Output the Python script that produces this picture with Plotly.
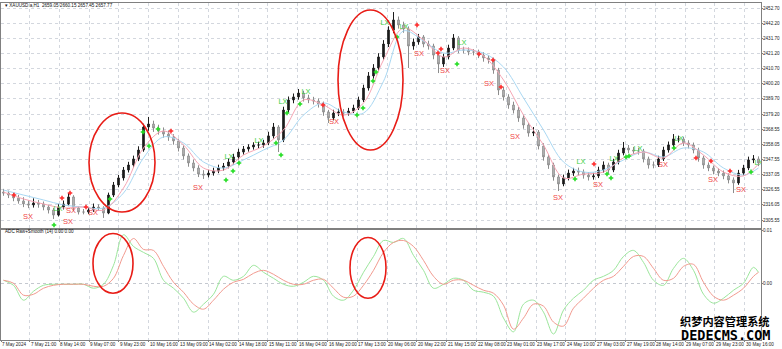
import plotly.graph_objects as go

# ---------------- data ----------------
first_open = 2325.0
closes = [2324.3, 2322.9, 2320.9, 2318.8, 2316.7, 2316.0, 2317.4, 2316.7, 2314.6, 2312.5,
          2309.0, 2314.6, 2316.7, 2321.6, 2313.9, 2311.1, 2311.1, 2312.5, 2314.6, 2313.9,
          2310.4, 2322.9, 2329.9, 2334.8, 2340.3, 2343.8, 2348.0, 2354.2, 2370.2, 2372.3,
          2369.5, 2367.4, 2365.3, 2363.3, 2360.5, 2355.6, 2350.1, 2345.2, 2341.7, 2337.5,
          2336.8, 2338.2, 2339.6, 2341.7, 2343.1, 2345.9, 2349.4, 2352.8, 2354.9, 2356.3,
          2357.7, 2357.7, 2359.1, 2364.0, 2370.2, 2361.2, 2382.0, 2389.0, 2391.1, 2393.8,
          2390.4, 2389.0, 2388.3, 2386.2, 2380.6, 2376.5, 2379.9, 2380.6, 2379.9, 2381.3,
          2383.4, 2389.0, 2397.3, 2405.7, 2411.2, 2418.9, 2427.9, 2437.6, 2444.6, 2441.1,
          2438.3, 2426.5, 2429.3, 2432.8, 2427.9, 2426.5, 2420.2, 2414.0, 2418.9, 2425.1,
          2432.1, 2423.7, 2423.7, 2422.3, 2422.3, 2420.2, 2418.2, 2416.8, 2409.8, 2395.9,
          2391.1, 2385.5, 2382.0, 2376.5, 2371.6, 2366.0, 2366.7, 2357.0, 2349.4, 2343.8,
          2335.5, 2330.6, 2334.8, 2338.2, 2339.6, 2338.9, 2336.8, 2335.5, 2336.2, 2340.3,
          2343.8, 2340.3, 2345.9, 2352.1, 2355.6, 2354.2, 2353.5, 2353.5, 2348.0, 2343.8,
          2343.8, 2348.0, 2354.2, 2357.7, 2361.9, 2361.9, 2359.1, 2357.7, 2354.2, 2348.7,
          2343.8, 2341.7, 2339.6, 2338.2, 2336.2, 2333.4, 2331.3, 2338.2, 2341.7, 2347.3,
          2348.0, 2345.2]
highs = [2327.2, 2326.0, 2324.5, 2323.0, 2321.4, 2319.2, 2320.6, 2319.5, 2318.4, 2316.2,
         2314.0, 2316.8, 2319.1, 2324.3, 2322.8, 2315.3, 2313.2, 2314.3, 2317.0, 2316.5,
         2315.1, 2324.6, 2332.0, 2336.9, 2342.4, 2346.0, 2350.3, 2356.8, 2372.5, 2377.2,
         2374.6, 2371.8, 2369.9, 2367.7, 2365.2, 2362.1, 2357.4, 2351.8, 2347.5, 2343.6,
         2340.2, 2340.5, 2341.9, 2344.0, 2345.2, 2348.3, 2351.6, 2355.1, 2357.0, 2358.2,
         2359.6, 2360.0, 2361.3, 2366.9, 2373.0, 2371.5, 2384.3, 2391.4, 2393.5, 2396.6,
         2395.4, 2392.6, 2391.2, 2390.1, 2387.9, 2382.1, 2382.2, 2382.9, 2382.6, 2383.5,
         2385.7, 2391.3, 2399.6, 2408.4, 2413.9, 2421.5, 2430.6, 2440.2, 2450.1, 2447.0,
         2443.4, 2440.1, 2431.7, 2434.9, 2434.1, 2430.2, 2428.1, 2421.6, 2421.2, 2427.4,
         2434.8, 2433.4, 2426.0, 2425.5, 2424.4, 2424.0, 2422.3, 2420.1, 2418.4, 2411.3,
         2398.2, 2393.0, 2387.8, 2384.1, 2378.6, 2373.2, 2370.2, 2368.1, 2358.9, 2351.2,
         2345.4, 2337.2, 2337.1, 2340.6, 2341.8, 2342.0, 2340.7, 2338.9, 2338.4, 2342.6,
         2346.3, 2345.4, 2348.1, 2354.4, 2359.8, 2357.7, 2356.3, 2355.8, 2355.0, 2349.6,
         2346.2, 2350.2, 2356.5, 2360.1, 2365.3, 2364.2, 2363.4, 2361.0, 2359.4, 2355.8,
         2350.3, 2345.6, 2343.4, 2341.5, 2340.0, 2338.0, 2335.2, 2340.4, 2343.9, 2349.6,
         2350.7, 2349.8]
lows = [2322.4, 2320.8, 2318.6, 2316.9, 2314.5, 2313.8, 2314.2, 2314.1, 2312.3, 2310.1,
        2306.3, 2308.0, 2312.9, 2315.2, 2311.6, 2309.4, 2309.5, 2309.8, 2311.2, 2311.8,
        2307.0, 2309.6, 2321.5, 2328.3, 2333.0, 2338.6, 2342.1, 2346.5, 2353.0, 2367.6,
        2366.8, 2364.9, 2362.8, 2360.6, 2357.9, 2353.2, 2347.6, 2342.6, 2339.4, 2335.4,
        2334.1, 2335.2, 2336.4, 2338.1, 2339.9, 2341.5, 2344.2, 2347.7, 2351.0, 2353.1,
        2354.5, 2355.4, 2355.8, 2357.6, 2362.2, 2352.8, 2359.7, 2380.2, 2386.7, 2389.2,
        2387.9, 2386.8, 2385.9, 2383.7, 2378.0, 2373.0, 2374.8, 2377.8, 2377.6, 2378.1,
        2379.9, 2382.0, 2387.6, 2395.5, 2403.8, 2409.4, 2417.0, 2425.8, 2435.4, 2438.6,
        2435.7, 2411.2, 2423.9, 2427.4, 2425.6, 2424.0, 2417.3, 2407.7, 2412.0, 2417.2,
        2423.6, 2421.5, 2421.4, 2420.1, 2420.0, 2418.1, 2415.6, 2414.3, 2407.2, 2392.4,
        2388.6, 2382.9, 2379.6, 2373.8, 2369.0, 2363.5, 2363.9, 2354.6, 2346.8, 2341.1,
        2332.9, 2325.7, 2329.0, 2333.1, 2336.2, 2336.5, 2334.3, 2333.0, 2333.6, 2334.7,
        2338.5, 2337.9, 2338.8, 2344.2, 2350.5, 2352.0, 2351.3, 2351.0, 2345.6, 2341.3,
        2341.5, 2342.4, 2346.6, 2352.4, 2356.0, 2359.5, 2357.0, 2355.3, 2351.9, 2346.1,
        2341.2, 2339.5, 2337.3, 2336.0, 2333.9, 2331.0, 2324.3, 2330.0, 2336.6, 2340.2,
        2345.1, 2343.0]

ma_bars = [0, 4, 8, 12, 16, 20, 24, 28, 32, 36, 40, 44, 48, 52, 56, 60, 64, 68, 72, 76,
           80, 84, 88, 92, 96, 100, 104, 108, 112, 116, 120, 124, 128, 132, 136, 140, 144, 148, 151]
ma_fast = [2325.0, 2320.2, 2316.7, 2313.9, 2314.6, 2312.5, 2327.8, 2355.6, 2367.4, 2357.7,
           2341.7, 2340.3, 2350.7, 2357.0, 2368.1, 2389.0, 2385.5, 2378.5, 2386.9, 2416.8,
           2439.0, 2430.7, 2418.9, 2425.1, 2419.6, 2402.9, 2378.5, 2357.7, 2334.8, 2337.5,
           2338.9, 2348.7, 2352.8, 2348.7, 2359.1, 2350.7, 2338.9, 2336.2, 2344.5]
ma_slow = [2326.4, 2322.9, 2319.5, 2316.0, 2314.6, 2313.9, 2324.3, 2348.7, 2363.3, 2359.1,
           2345.9, 2341.7, 2347.3, 2354.2, 2361.2, 2378.5, 2386.9, 2380.6, 2379.9, 2402.0,
           2437.0, 2430.0, 2421.6, 2423.7, 2421.6, 2411.9, 2390.4, 2368.1, 2345.9, 2338.9,
           2340.3, 2347.3, 2352.8, 2349.4, 2355.6, 2352.8, 2341.7, 2336.8, 2341.7]

ind_bars = list(range(0, 151, 2)) + [151]
adc_raw = [0.00057, -0.00038, -0.00321, -0.00151, -0.00038, -0.00019, -0.00019, -0.00019, -0.00019, -0.00094,
           -0.00019, 0.00340, 0.00920, 0.00698, 0.00585, 0.00472, 0.00057, -0.00094, -0.00283, -0.00547,
           -0.00396, -0.00208, 0.00132, 0.00057, 0.00132, 0.00340, 0.00208, 0.00094, -0.00019, -0.00057,
           0.00019, 0.00132, 0.00057, -0.00245, -0.00321, -0.00132, 0.00208, 0.00509, 0.00811, 0.00774,
           0.00849, 0.00528, 0.00245, -0.00094, -0.00019, 0.00094, 0.00057, -0.00132, -0.00170, -0.00245,
           -0.00660, -0.00920, -0.00396, -0.00321, -0.00547, -0.00962, -0.00509, -0.00283, -0.00132, 0.00057,
           0.00132, 0.00245, 0.00509, 0.00623, 0.00396, 0.00057, -0.00038, 0.00283, 0.00472, 0.00245,
           -0.00208, -0.00377, -0.00283, -0.00132, 0.00000, 0.00302, 0.00208]
adc_smooth = [0.00057, 0.00000, -0.00226, -0.00208, -0.00094, -0.00038, -0.00019, -0.00019, -0.00019, -0.00057,
              -0.00057, 0.00094, 0.00528, 0.00849, 0.00642, 0.00623, 0.00321, 0.00019, -0.00170, -0.00396,
              -0.00491, -0.00321, -0.00113, 0.00019, 0.00075, 0.00189, 0.00245, 0.00170, 0.00057, -0.00019,
              -0.00019, 0.00057, 0.00075, -0.00094, -0.00264, -0.00245, -0.00038, 0.00245, 0.00585, 0.00774,
              0.00811, 0.00698, 0.00434, 0.00132, -0.00019, 0.00057, 0.00057, -0.00038, -0.00132, -0.00189,
              -0.00415, -0.00870, -0.00660, -0.00396, -0.00434, -0.00736, -0.00811, -0.00472, -0.00283, -0.00094,
              0.00057, 0.00132, 0.00321, 0.00509, 0.00509, 0.00283, 0.00057, 0.00094, 0.00321, 0.00358,
              0.00019, -0.00245, -0.00321, -0.00226, -0.00094, 0.00132, 0.00208]

sell_dot_bars = [2.1, 11.7, 13.3, 16.5, 33.5, 63.9, 82.7, 86.9, 87.5, 95.1, 97.9, 99.5, 118.1, 138.5, 141.5, 145.3]
sell_dot_prices = [2322.9, 2320.9, 2324.3, 2314.6, 2367.4, 2385.5, 2441.1, 2421.6, 2424.4, 2420.9, 2416.8, 2398.0,
                   2344.5, 2348.7, 2346.6, 2339.6]
buy_dot_bars = [10.1, 21.3, 27.9, 29.1, 30.9, 44.5, 45.9, 47.1, 54.5, 55.5, 56.7, 59.3, 70.7, 71.9, 73.9, 74.5,
                78.7, 90.7, 114.3, 120.7, 121.5, 124.5, 125.1, 134.1, 149.5]
buy_dot_prices = [2302.1, 2320.2, 2366.7, 2357.0, 2368.8, 2333.4, 2339.6, 2345.2, 2359.1, 2350.7, 2379.9, 2386.2,
                  2378.5, 2383.4, 2402.2, 2408.4, 2432.8, 2414.0, 2334.1, 2337.5, 2334.8, 2349.4, 2350.1, 2355.6, 2339.0]
sx_bars = [4.9, 12.9, 13.5, 17.9, 38.9, 66.1, 83.1, 88.3, 97.1, 102.3, 110.9, 118.9, 131.9, 141.9, 147.5]
sx_prices = [2307.7, 2304.2, 2311.8, 2310.4, 2327.8, 2373.7, 2421.0, 2409.1, 2400.1, 2363.3, 2320.9, 2329.9,
             2343.8, 2333.4, 2326.4]
lx_bars = [10.9, 45.1, 51.1, 55.9, 60.5, 76.3, 80.1, 91.7, 115.5, 122.1, 126.9, 135.1, 151.1]
lx_prices = [2313.2, 2349.4, 2360.5, 2387.6, 2394.5, 2442.5, 2439.7, 2428.6, 2345.9, 2348.0, 2354.9, 2361.9, 2345.2]

price_ticks = [2452.70, 2442.20, 2431.70, 2421.20, 2410.70, 2400.20, 2389.70, 2379.20, 2368.55,
               2358.05, 2347.55, 2337.05, 2326.55, 2316.05, 2305.55]
ind_ticks = [0.01, 0.00]
time_labels = ["7 May 2024", "7 May 21:00", "8 May 14:00", "9 May 07:00", "9 May 23:00", "10 May 16:00",
               "13 May 09:00", "14 May 02:00", "14 May 18:00", "15 May 11:00", "16 May 04:00", "16 May 20:00",
               "17 May 13:00", "20 May 06:00", "20 May 22:00", "21 May 15:00", "22 May 08:00", "23 May 01:00",
               "23 May 17:00", "24 May 10:00", "27 May 03:00", "27 May 19:00", "28 May 14:00", "29 May 07:00",
               "29 May 23:00", "30 May 16:00"]

# hand-drawn highlight ellipses (bar index span, value span)
main_circles = [(17.1, 30.3, 2311.1, 2379.9), (66.9, 79.9, 2354.2, 2451.5)]
ind_circles = [(17.9, 25.9, -0.00189, 0.00943), (69.3, 76.5, -0.00283, 0.00868)]

# ---------------- figure ----------------
n = len(closes)
bars = list(range(n))
opens = [first_open] + closes[:-1]
tickpos = [-0.45] + [5.2 + 5.96 * (k - 1) for k in range(1, len(time_labels))]

FONT = "Liberation Sans"
grid = "#d3d7de"
axc = "#808080"
lblfont = dict(family=FONT, size=4.6, color="#222222")

fig = go.Figure()
fig.add_trace(go.Candlestick(
    x=bars, open=opens, high=highs, low=lows, close=closes,
    increasing=dict(line=dict(color="#1c1c1c", width=1), fillcolor="#1c1c1c"),
    decreasing=dict(line=dict(color="#8c8c8c", width=1), fillcolor="#c6c6c6"),
    whiskerwidth=0, xaxis="x", yaxis="y", showlegend=False, hoverinfo="skip"))
fig.add_trace(go.Scatter(x=ma_bars, y=ma_slow, mode="lines", xaxis="x", yaxis="y",
                         line=dict(color="#a9d8f3", width=1, shape="spline")))
fig.add_trace(go.Scatter(x=ma_bars, y=ma_fast, mode="lines", xaxis="x", yaxis="y",
                         line=dict(color="#f6a6b4", width=1, shape="spline")))
fig.add_trace(go.Scatter(x=sell_dot_bars, y=sell_dot_prices, mode="markers", xaxis="x", yaxis="y",
                         marker=dict(symbol="cross", size=3.8, color="#ff2a2a", line=dict(width=0))))
fig.add_trace(go.Scatter(x=buy_dot_bars, y=buy_dot_prices, mode="markers", xaxis="x", yaxis="y",
                         marker=dict(symbol="cross", size=3.8, color="#22dd22", line=dict(width=0))))
fig.add_trace(go.Scatter(x=sx_bars, y=sx_prices, mode="text", text=["SX"] * len(sx_bars), xaxis="x", yaxis="y",
                         textfont=dict(family=FONT, size=7.5, color="#f04848"), cliponaxis=True))
fig.add_trace(go.Scatter(x=lx_bars, y=lx_prices, mode="text", text=["LX"] * len(lx_bars), xaxis="x", yaxis="y",
                         textfont=dict(family=FONT, size=7.5, color="#3ccf3c"), cliponaxis=True))
fig.add_trace(go.Scatter(x=ind_bars, y=adc_raw, mode="lines", xaxis="x2", yaxis="y2",
                         line=dict(color="#9be69b", width=1, shape="spline")))
fig.add_trace(go.Scatter(x=ind_bars, y=adc_smooth, mode="lines", xaxis="x2", yaxis="y2",
                         line=dict(color="#f29a8f", width=1, shape="spline")))

shapes = []
for x0, x1, y0, y1 in main_circles:
    shapes.append(dict(type="circle", xref="x", yref="y", x0=x0, x1=x1, y0=y0, y1=y1,
                       line=dict(color="#e81c16", width=1.6)))
for x0, x1, y0, y1 in ind_circles:
    shapes.append(dict(type="circle", xref="x2", yref="y2", x0=x0, x1=x1, y0=y0, y1=y1,
                       line=dict(color="#e81c16", width=1.6)))

annotations = []
for v in price_ticks:
    annotations.append(dict(xref="paper", yref="y", x=1, y=v, xanchor="left", yanchor="middle",
                            xshift=1, showarrow=False, text=f"{v:.2f}", font=lblfont, borderpad=0))
for v in ind_ticks:
    annotations.append(dict(xref="paper", yref="y2", x=1, y=v, xanchor="left", yanchor="middle",
                            xshift=1, showarrow=False, text=f"{v:.2f}", font=lblfont, borderpad=0))
for t, lab in zip(tickpos, time_labels):
    annotations.append(dict(xref="x2", yref="paper", x=t, y=0, xanchor="left", yanchor="top",
                            xshift=0, yshift=-1, showarrow=False, text=lab, font=lblfont, borderpad=0))
annotations += [
    dict(xref="paper", yref="paper", x=0.003, y=0.994, xanchor="left", yanchor="middle", showarrow=False,
         text="▾ XAUUSD.a,H1  2659.05 2660.15 2657.45 2657.77", font=dict(family=FONT, size=4.6, color="#111111")),
    dict(xref="paper", yref="paper", x=0.003, y=0.3205, xanchor="left", yanchor="middle", showarrow=False,
         text="ADC Raw+Smooth (14) 0.00 0.00", font=dict(family=FONT, size=4.6, color="#111111")),
    dict(xref="paper", yref="paper", x=1.0132, y=0.0564, xanchor="right", yanchor="middle", showarrow=False,
         text="<b>织梦内容管理系统</b>", borderpad=0,
         font=dict(family="Noto Sans CJK SC", size=11.2, color="#000000", shadow="0px 0px 2px white")),
    dict(xref="paper", yref="paper", x=1.0132, y=0.0148, xanchor="right", yanchor="middle", showarrow=False,
         text="<b>DEDECMS.COM</b>", borderpad=0,
         font=dict(family="DejaVu Sans Mono", size=13.5, color="#000000", shadow="0px 0px 2px white")),
]

fig.update_layout(
    width=782, height=349, margin=dict(l=1, r=21, t=3, b=9),
    paper_bgcolor="white", plot_bgcolor="white", showlegend=False, shapes=shapes,
    annotations=annotations, boxgap=0.55, hovermode=False,
    xaxis=dict(domain=[0, 1], anchor="y", range=[-0.5, n - 0.5], tickvals=tickpos, showticklabels=False,
               showgrid=True, gridcolor=grid, griddash="dot", gridwidth=1, zeroline=False,
               showline=True, mirror=True, linecolor=axc, linewidth=1, ticks="",
               rangeslider=dict(visible=False)),
    yaxis=dict(domain=[0.33234, 1], anchor="x", range=[2300.0, 2456.4], side="right",
               tickvals=price_ticks, showticklabels=False,
               showgrid=True, gridcolor=grid, griddash="dot", gridwidth=1, zeroline=False,
               showline=True, mirror=True, linecolor=axc, linewidth=1,
               ticks="outside", ticklen=1, tickcolor=axc),
    xaxis2=dict(domain=[0, 1], anchor="y2", matches="x", range=[-0.5, n - 0.5], tickvals=tickpos,
                showticklabels=False,
                showgrid=True, gridcolor=grid, griddash="dot", gridwidth=1, zeroline=False,
                showline=True, mirror=True, linecolor=axc, linewidth=1,
                ticks="outside", ticklen=1, tickcolor=axc),
    yaxis2=dict(domain=[0, 0.32641], anchor="x2", range=[-0.010755, 0.0101], side="right",
                tickvals=ind_ticks, showticklabels=False,
                showgrid=True, gridcolor="#c4c8cf", griddash="dot", gridwidth=1, zeroline=False,
                showline=True, mirror=True, linecolor=axc, linewidth=1,
                ticks="outside", ticklen=1, tickcolor=axc),
)

fig.write_html("out.html", config={"displayModeBar": False},
               post_script="document.body.style.margin='0';")
